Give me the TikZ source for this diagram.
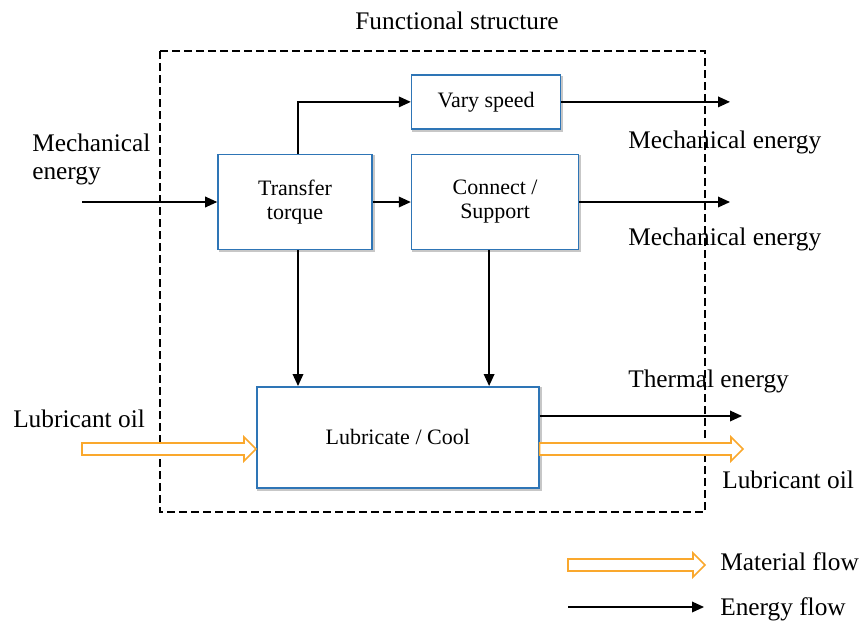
\documentclass[tikz,border=0pt]{standalone}
\usepackage{fontspec}
\setmainfont{Liberation Serif}
\usepackage{tikz}
\definecolor{boxblue}{RGB}{46, 117, 182}
\definecolor{oilorange}{RGB}{250, 168, 45}
\usetikzlibrary{arrows.meta, positioning, calc}

% hollow material-flow arrow between two points on one level
\newcommand{\oilflow}[2]{%
  \draw[oil] ($(#1)+(0,-6)$) -- ($(#2)+(-12,-6)$) -- ($(#2)+(-12,-12)$)
    -- (#2) -- ($(#2)+(-12,12)$) -- ($(#2)+(-12,6)$) -- ($(#1)+(0,6)$) -- cycle;}

\begin{document}
\begin{tikzpicture}[
    x=0.75pt, y=-0.75pt,
    node distance=28.5pt,
    box/.style={rectangle, draw=boxblue, fill=white, line width=1.2pt,
                minimum height=71.25pt, align=center,
                font=\fontsize{16.5}{18}\selectfont,
                preaction={draw=black!22, line width=1.6pt,
                           transform canvas={xshift=1.3pt, yshift=-1.3pt}}},
    lbl/.style={inner sep=0pt, font=\fontsize{19}{21}\selectfont, anchor=west},
    energy/.style={-{Triangle[length=9pt, width=8pt]}, line width=1pt},
    oil/.style={draw=oilorange, fill=white, line width=1.2pt, line join=miter},
    boundary/.style={dash pattern=on 6pt off 3pt, line width=1pt}
]
    \useasboundingbox (0,0) rectangle (861,621);

    % system boundary
    \draw[boundary] (160,51) rectangle (705,512);
    \node[lbl, anchor=center] (title) at (457,21) {Functional structure};

    % functions
    \node[box, minimum width=115.5pt] (transfer) at (295,202) {Transfer\\torque};
    \node[box, minimum width=125.25pt, right=of transfer] (connect) {Connect /\\Support};
    \node[box, minimum width=111.75pt, minimum height=40.5pt,
          above=18pt of connect.north west, anchor=south west] (vary) {Vary speed};
    \node[box, minimum width=211.5pt, minimum height=75.75pt, anchor=north west]
          (lubricate) at (256,386) {Lubricate / Cool};

    % flow ends
    \coordinate (mechin) at (82,202);
    \coordinate (oilin) at (82,449);
    \coordinate (speedout) at (730,101);
    \coordinate (torqueout) at (730,202);
    \coordinate (heatout) at (742,416);
    \coordinate (oilout) at (743,449);
    \coordinate (oilend) at (lubricate.west |- oilin);
    \coordinate (oilstart) at (lubricate.east |- oilout);

    % energy flows
    \draw[energy] (mechin) -- (transfer);
    \draw[energy] (transfer) -- (connect);
    \draw[energy] ([xshift=2.25pt]transfer.north) |- (vary.west);
    \draw[energy] ([xshift=2.25pt]transfer.south) -- ([xshift=2.25pt]transfer.south |- lubricate.north);
    \draw[energy] ([xshift=-4.5pt]connect.south) -- ([xshift=-4.5pt]connect.south |- lubricate.north);
    \draw[energy] (vary.east) -- (vary.east -| speedout);
    \draw[energy] (connect.east) -- (torqueout);
    \draw[energy] (lubricate.east |- heatout) -- (heatout);

    % material flows
    \oilflow{oilin}{oilend}
    \oilflow{oilstart}{oilout}

    % labels
    \node[lbl, align=left] (mechinlbl) at (32,159) {Mechanical\\energy};
    \node[lbl] (speedlbl) at (628,142) {Mechanical energy};
    \node[lbl] (torquelbl) at (628,239) {Mechanical energy};
    \node[lbl] (heatlbl) at (628,381) {Thermal energy};
    \node[lbl] (oiloutlbl) at (722,480) {Lubricant oil};
    \node[lbl] (oilinlbl) at (13,419) {Lubricant oil};

    % legend
    \coordinate (matA) at (568,565);
    \coordinate (matB) at (705,565);
    \coordinate (enA) at (568,607);
    \coordinate (enB) at (704,607);
    \oilflow{matA}{matB}
    \draw[energy] (enA) -- (enB);
    \node[lbl] (matlbl) at (720,562) {Material flow};
    \node[lbl] (enlbl) at (720,609) {Energy flow};
\end{tikzpicture}
\end{document}
